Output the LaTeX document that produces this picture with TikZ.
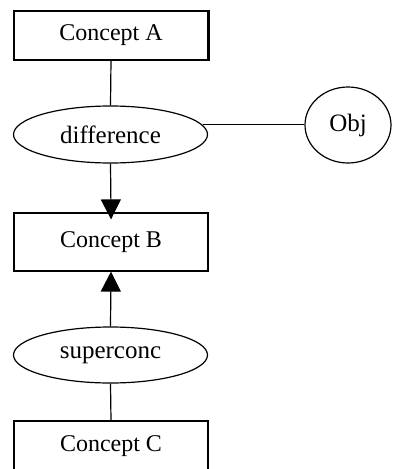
\documentclass[tikz,border=0pt]{standalone}
\usepackage{fontspec}
\setmainfont{Liberation Serif}
\usetikzlibrary{arrows.meta,shapes.geometric}
\begin{document}
\begin{tikzpicture}[x=1pt,y=-1pt,line width=1.2pt,
    concept/.style={draw,rectangle,minimum width=194pt,inner sep=0pt,
      font=\fontsize{24}{28}\selectfont},
    relation/.style={draw,ellipse,inner sep=0pt,
      font=\fontsize{25}{29}\selectfont},
    tip/.style={-{Triangle[length=20pt,width=20pt]}}]
  \useasboundingbox (0,0) rectangle (392,469);
  \node[concept,minimum height=49pt] (concA) at (111,35.5) {Concept A};
  \node[relation,minimum width=194pt,minimum height=57pt] (diff) at (110.5,134.5) {difference};
  \node[relation,minimum width=86pt,minimum height=76pt] (obj) at (348,125) {Obj};
  \node[concept,minimum height=58pt] (concB) at (111,242) {Concept B};
  \node[relation,minimum width=194pt,minimum height=56pt] (super) at (110.5,355) {superconc};
  \node[concept,minimum height=51pt] (concC) at (111,446.5) {Concept C};
  \draw[line width=3pt] (concA.north east) -- (concA.south east);
  \draw (concA.south) -- (diff.north);
  \draw (diff.6) -- (diff.6 -| obj.west);
  \draw[tip,shorten >=-7pt] (diff.south) -- (concB.north);
  \draw[tip] (super.north) -- (concB.south);
  \draw (concC.north) -- (super.south);
\end{tikzpicture}
\end{document}
